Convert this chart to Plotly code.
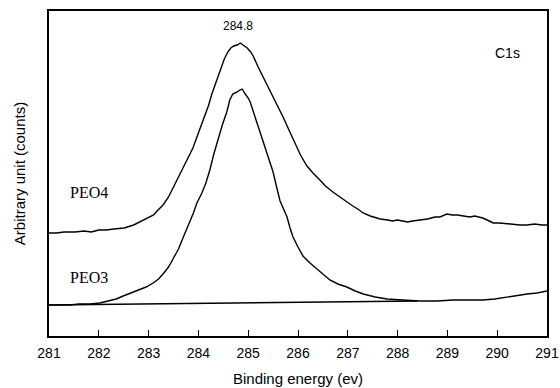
import plotly.graph_objects as go

# Binding energy (eV) and intensity (arbitrary counts)
peo4_energy = [281.0, 281.15, 281.3, 281.52, 281.7, 281.85, 282.0, 282.15, 282.3, 282.51, 282.7,
               282.83, 282.99, 283.1, 283.17, 283.29, 283.4, 283.49, 283.6, 283.69, 283.8, 283.89,
               284.0, 284.09, 284.2, 284.27, 284.35, 284.43, 284.52, 284.59, 284.65, 284.71,
               284.78, 284.84, 284.9, 284.98, 285.05, 285.10, 285.2, 285.30, 285.4, 285.50,
               285.6, 285.70, 285.8, 285.90, 286.05, 286.18, 286.3, 286.44, 286.55, 286.70,
               286.84, 286.95, 287.10, 287.2, 287.31, 287.45, 287.65, 287.8, 287.9, 288.0,
               288.11, 288.2, 288.3, 288.45, 288.6, 288.75, 288.85, 288.99, 289.1, 289.2,
               289.3, 289.45, 289.55, 289.71, 289.8, 289.92, 290.05, 290.2, 290.3, 290.46,
               290.6, 290.75, 290.9, 291.0]
peo4_counts = [103, 103, 104, 104, 105, 104, 106, 106, 107, 108, 111,
               114, 118, 121, 125, 131, 139, 148, 158, 168, 178, 188,
               203, 215, 230, 242, 253, 265, 277, 284, 288, 290,
               291, 293, 291, 288, 284, 280, 269, 259, 249, 240,
               229, 219, 208, 197, 181, 170, 163, 156, 150, 144,
               139, 135, 130, 127, 123, 120, 117, 116, 115, 116,
               115, 114, 115, 116, 117, 119, 119, 122, 121, 121,
               120, 119, 120, 118, 116, 113, 113, 112, 112, 111,
               111, 112, 111, 111]

peo3_energy = [281.0, 281.2, 281.42, 281.6, 281.82, 282.02, 282.22, 282.35, 282.49, 282.65,
               282.83, 282.95, 283.09, 283.2, 283.29, 283.4, 283.49, 283.6, 283.69, 283.76,
               283.83, 283.9, 283.97, 284.07, 284.15, 284.23, 284.31, 284.39, 284.48, 284.57,
               284.63, 284.69, 284.74, 284.78, 284.83, 284.88, 284.94, 285.0, 285.04, 285.12,
               285.20, 285.29, 285.38, 285.44, 285.50, 285.57, 285.64, 285.71, 285.78, 285.84,
               285.90, 286.0, 286.10, 286.24, 286.38, 286.5, 286.64, 286.8, 286.98, 287.15,
               287.31, 287.55, 287.79, 288.1, 288.45, 288.8, 289.11, 289.4, 289.71, 289.95,
               290.20, 290.4, 290.60, 290.8, 291.0]
peo3_counts = [31, 31, 31, 32, 32, 33, 35, 37, 40, 43,
               46, 49, 53, 57, 62, 69, 77, 87, 98, 106,
               114, 123, 133, 143, 153, 166, 182, 197, 211, 224,
               236, 242, 243, 244, 246, 247, 242, 238, 234, 222,
               210, 196, 183, 173, 164, 149, 135, 127, 119, 108,
               99, 89, 80, 73, 67, 62, 56, 52, 49, 45,
               42, 39, 37, 36, 35, 35, 36, 36, 36, 37,
               39, 41, 42, 43, 45]

baseline_energy = [281.0, 288.4]
baseline_counts = [31, 35]

x_ticks = [281, 282, 283, 284, 285, 286, 287, 288, 289, 290, 291]

fig = go.Figure()
line = dict(color="black", width=1.4)
fig.add_trace(go.Scatter(x=peo4_energy, y=peo4_counts, mode="lines", line=line, name="PEO4"))
fig.add_trace(go.Scatter(x=peo3_energy, y=peo3_counts, mode="lines", line=line, name="PEO3"))
fig.add_trace(go.Scatter(x=baseline_energy, y=baseline_counts, mode="lines", line=line, name="baseline"))

serif = dict(family="Liberation Serif, Times New Roman, serif", size=16, color="black")
sans = dict(family="Liberation Sans, Arial, sans-serif", color="black")

fig.add_annotation(x=284.8, y=310, text="284.8", showarrow=False, font=dict(**sans, size=12))
fig.add_annotation(x=290.2, y=283, text="C1s", showarrow=False, font=dict(**sans, size=14))
fig.add_annotation(x=281.38, y=144, text="PEO4", showarrow=False, xanchor="left", font=serif)
fig.add_annotation(x=281.38, y=59, text="PEO3", showarrow=False, xanchor="left", font=serif)

fig.update_layout(
    width=560, height=388, autosize=False,
    margin=dict(l=49, r=13, t=11, b=52),
    paper_bgcolor="white", plot_bgcolor="white",
    showlegend=False,
)
fig.update_xaxes(
    range=[281, 291], tickvals=x_ticks, ticks="inside", ticklen=6, tickwidth=1.2,
    tickcolor="black", showline=True, linecolor="black", linewidth=1.5, mirror=True,
    showgrid=False, zeroline=False, tickfont=dict(**sans, size=14), automargin=False,
    ticklabelstandoff=3,
    title=dict(text="Binding energy (ev)", font=dict(**sans, size=15), standoff=14),
)
fig.update_yaxes(
    range=[0, 325], showticklabels=False, ticks="", showline=True, linecolor="black",
    linewidth=1.5, mirror=True, showgrid=False, zeroline=False, automargin=False,
    title=dict(text="Arbitrary unit (counts)", font=dict(**sans, size=15), standoff=18),
)

fig.write_html("out.html")
